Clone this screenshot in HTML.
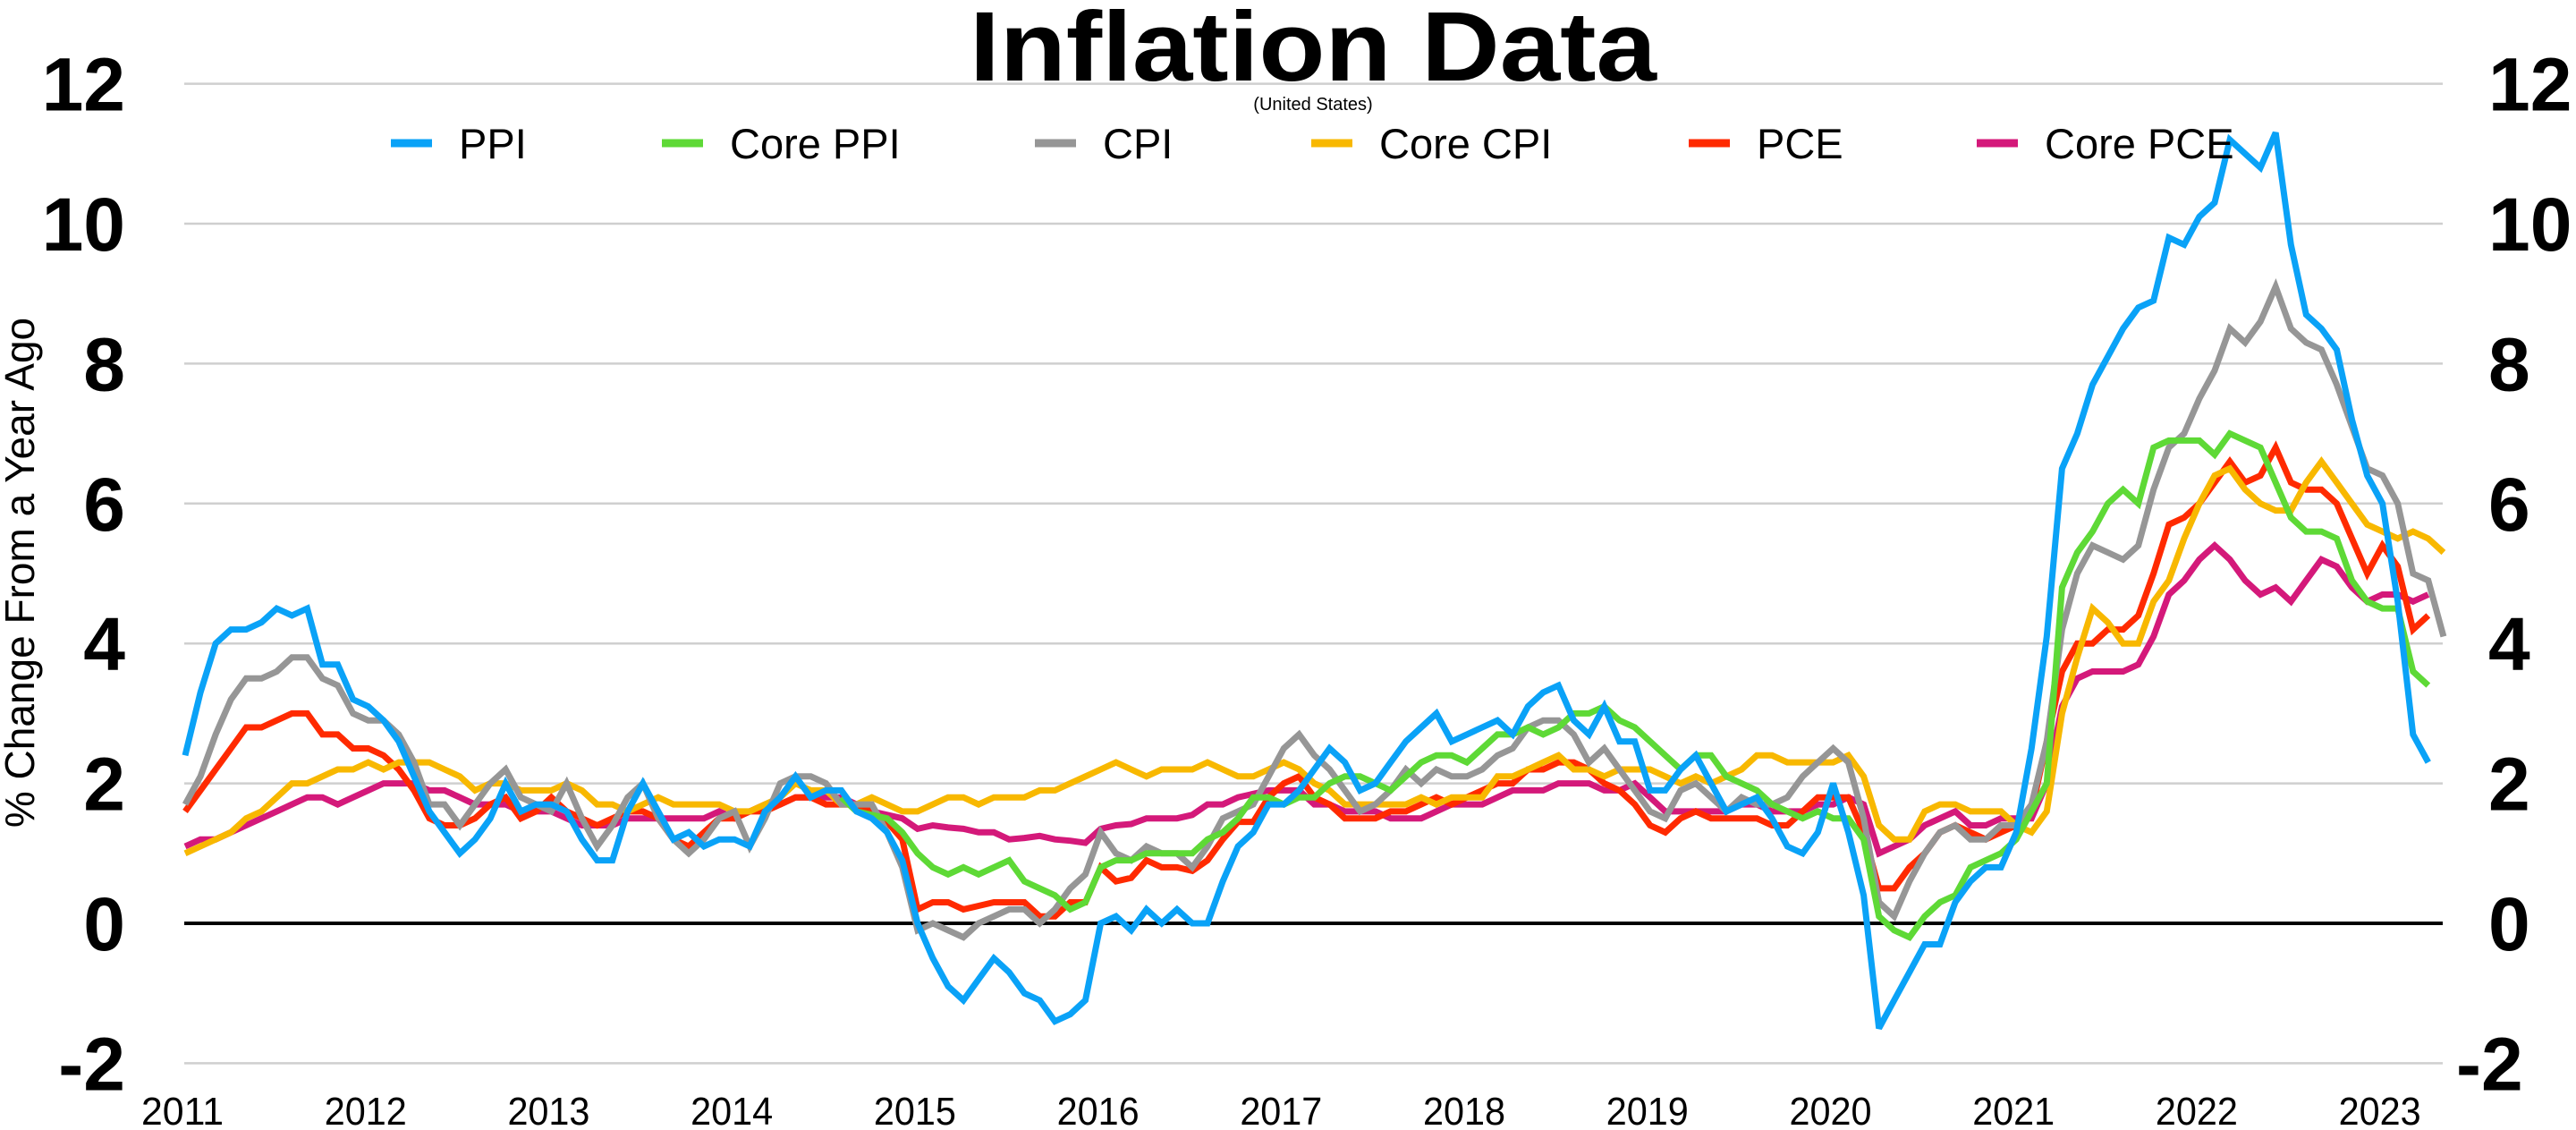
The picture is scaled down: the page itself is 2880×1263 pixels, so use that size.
<!DOCTYPE html>
<html><head><meta charset="utf-8"><style>
html,body{margin:0;padding:0;background:#fff;}
svg{display:block;font-family:"Liberation Sans",Arial,sans-serif;}
</style></head>
<body>
<svg id="chart" width="2880" height="1263" viewBox="0 0 2880 1263" xmlns="http://www.w3.org/2000/svg">
<text x="1468" y="90" font-size="110" font-weight="bold" text-anchor="middle" textLength="768" lengthAdjust="spacingAndGlyphs">Inflation Data</text>
<text x="1468" y="123" font-size="20" text-anchor="middle">(United States)</text>
<text transform="translate(38,640) rotate(-90)" font-size="46" text-anchor="middle">% Change From a Year Ago</text>
<g id="grid"></g><g id="series"></g><g id="legend"></g><g id="ticks"></g>
</svg>
<script>
const yTicks=[-2,0,2,4,6,8,10,12];
const yearLabels=["2011","2012","2013","2014","2015","2016","2017","2018","2019","2020","2021","2022","2023"];
const seriesNames=["PPI","Core PPI","CPI","Core CPI","PCE","Core PCE"];
const seriesColors=["#0aa2f7","#5ed936","#969696","#f8b800","#ff2a00","#d4197a"];
const seriesStart=[0,43,0,0,0,0];
const ppi=[2.4,3.3,4.0,4.2,4.2,4.3,4.5,4.4,4.5,3.7,3.7,3.2,
3.1,2.9,2.6,2.1,1.6,1.3,1.0,1.2,1.5,2.0,1.6,1.7,
1.7,1.6,1.2,0.9,0.9,1.6,2.0,1.6,1.2,1.3,1.1,1.2,
1.2,1.1,1.6,1.8,2.1,1.8,1.9,1.9,1.6,1.5,1.3,0.9,
0.0,-0.5,-0.9,-1.1,-0.8,-0.5,-0.7,-1.0,-1.1,-1.4,-1.3,-1.1,
0.0,0.1,-0.1,0.2,0.0,0.2,0.0,0.0,0.6,1.1,1.3,1.7,
1.7,1.9,2.2,2.5,2.3,1.9,2.0,2.3,2.6,2.8,3.0,2.6,
2.7,2.8,2.9,2.7,3.1,3.3,3.4,2.9,2.7,3.1,2.6,2.6,
1.9,1.9,2.2,2.4,2.0,1.6,1.7,1.8,1.5,1.1,1.0,1.3,
2.0,1.3,0.4,-1.5,-1.1,-0.7,-0.3,-0.3,0.3,0.6,0.8,0.8,
1.3,2.5,4.1,6.5,7.0,7.7,8.1,8.5,8.8,8.9,9.8,9.7,
10.1,10.3,11.2,11.0,10.8,11.3,9.7,8.7,8.5,8.2,7.2,6.4,
6.0,4.6,2.7,2.3];
const corePpi=[1.8,1.6,1.55,1.5,1.3,
1.0,0.8,0.7,0.8,0.7,0.8,0.9,0.6,0.5,0.4,0.2,0.3,
0.8,0.9,0.9,1.0,1.0,1.0,1.0,1.2,1.3,1.5,1.8,1.8,
1.7,1.8,1.8,2.0,2.1,2.1,2.0,1.9,2.1,2.3,2.4,2.4,
2.3,2.5,2.7,2.7,2.8,2.7,2.8,3.0,3.0,3.1,2.9,2.8,
2.6,2.4,2.2,2.4,2.4,2.1,2.0,1.9,1.7,1.6,1.5,1.6,
1.5,1.5,1.2,0.1,-0.1,-0.2,0.1,0.3,0.4,0.8,0.9,1.0,
1.2,1.6,2.0,4.8,5.3,5.6,6.0,6.2,6.0,6.8,6.9,6.9,
6.9,6.7,7.0,6.9,6.8,6.3,5.8,5.6,5.6,5.5,4.9,4.6,
4.5,4.5,3.6,3.4];
const cpi=[1.7,2.1,2.7,3.2,3.5,3.5,3.6,3.8,3.8,3.5,3.4,3.0,
2.9,2.9,2.7,2.3,1.7,1.7,1.4,1.7,2.0,2.2,1.8,1.7,
1.6,2.0,1.5,1.1,1.4,1.8,2.0,1.5,1.2,1.0,1.2,1.5,
1.6,1.1,1.5,2.0,2.1,2.1,2.0,1.7,1.7,1.7,1.3,0.8,
-0.1,0.0,-0.1,-0.2,0.0,0.1,0.2,0.2,0.0,0.2,0.5,0.7,
1.3,1.0,0.9,1.1,1.0,1.0,0.8,1.1,1.5,1.6,1.7,2.1,
2.5,2.7,2.4,2.2,1.9,1.6,1.7,1.9,2.2,2.0,2.2,2.1,
2.1,2.2,2.4,2.5,2.8,2.9,2.9,2.7,2.3,2.5,2.2,1.9,
1.6,1.5,1.9,2.0,1.8,1.6,1.8,1.7,1.7,1.8,2.1,2.3,
2.5,2.3,1.5,0.3,0.1,0.6,1.0,1.3,1.4,1.2,1.2,1.4,
1.4,1.7,2.6,4.2,5.0,5.4,5.3,5.2,5.4,6.2,6.8,7.0,
7.5,7.9,8.5,8.3,8.6,9.1,8.5,8.3,8.2,7.7,7.1,6.5,
6.4,6.0,5.0,4.9,4.1];
const coreCpi=[1.0,1.1,1.2,1.3,1.5,1.6,1.8,2.0,2.0,2.1,2.2,2.2,
2.3,2.2,2.3,2.3,2.3,2.2,2.1,1.9,2.0,2.0,1.9,1.9,
1.9,2.0,1.9,1.7,1.7,1.6,1.7,1.8,1.7,1.7,1.7,1.7,
1.6,1.6,1.7,1.8,2.0,1.9,1.9,1.7,1.7,1.8,1.7,1.6,
1.6,1.7,1.8,1.8,1.7,1.8,1.8,1.8,1.9,1.9,2.0,2.1,
2.2,2.3,2.2,2.1,2.2,2.2,2.2,2.3,2.2,2.1,2.1,2.2,
2.3,2.2,2.0,1.9,1.7,1.7,1.7,1.7,1.7,1.8,1.7,1.8,
1.8,1.8,2.1,2.1,2.2,2.3,2.4,2.2,2.2,2.1,2.2,2.2,
2.2,2.1,2.0,2.1,2.0,2.1,2.2,2.4,2.4,2.3,2.3,2.3,
2.3,2.4,2.1,1.4,1.2,1.2,1.6,1.7,1.7,1.6,1.6,1.6,
1.4,1.3,1.6,3.0,3.8,4.5,4.3,4.0,4.0,4.6,4.9,5.5,
6.0,6.4,6.5,6.2,6.0,5.9,5.9,6.3,6.6,6.3,6.0,5.7,
5.6,5.5,5.6,5.5,5.3];
const pce=[1.6,1.9,2.2,2.5,2.8,2.8,2.9,3.0,3.0,2.7,2.7,2.5,
2.5,2.4,2.2,1.9,1.5,1.4,1.4,1.5,1.7,1.8,1.5,1.6,
1.8,1.6,1.5,1.4,1.5,1.6,1.6,1.5,1.2,1.1,1.3,1.5,
1.5,1.6,1.6,1.7,1.8,1.8,1.7,1.7,1.7,1.6,1.45,1.2,
0.2,0.3,0.3,0.2,0.25,0.3,0.3,0.3,0.1,0.1,0.3,0.3,
0.8,0.6,0.65,0.9,0.8,0.8,0.75,0.9,1.2,1.45,1.45,1.8,
2.0,2.1,1.8,1.7,1.5,1.5,1.5,1.6,1.6,1.7,1.8,1.7,
1.8,1.9,2.0,2.0,2.2,2.2,2.3,2.3,2.2,2.0,1.9,1.7,
1.4,1.3,1.5,1.6,1.5,1.5,1.5,1.5,1.4,1.4,1.6,1.8,
1.8,1.8,1.3,0.5,0.5,0.8,1.0,1.3,1.4,1.3,1.2,1.3,
1.4,1.6,2.6,3.6,4.0,4.0,4.2,4.2,4.4,5.0,5.7,5.8,
6.0,6.3,6.6,6.3,6.4,6.8,6.3,6.2,6.2,6.0,5.5,5.0,
5.4,5.1,4.2,4.4];
const corePce=[1.1,1.2,1.2,1.3,1.4,1.5,1.6,1.7,1.8,1.8,1.7,1.8,
1.9,2.0,2.0,2.0,1.9,1.9,1.8,1.7,1.7,1.7,1.6,1.6,
1.6,1.5,1.4,1.4,1.4,1.5,1.5,1.5,1.5,1.5,1.5,1.6,
1.5,1.6,1.7,1.7,1.8,1.8,1.8,1.8,1.7,1.6,1.55,1.5,
1.35,1.4,1.37,1.35,1.3,1.3,1.2,1.22,1.25,1.2,1.18,1.15,
1.35,1.4,1.42,1.5,1.5,1.5,1.55,1.7,1.7,1.8,1.85,1.9,
1.9,1.9,1.7,1.7,1.6,1.6,1.6,1.5,1.5,1.5,1.6,1.7,
1.7,1.7,1.8,1.9,1.9,1.9,2.0,2.0,2.0,1.9,1.9,2.0,
1.8,1.6,1.6,1.6,1.6,1.6,1.7,1.7,1.6,1.6,1.6,1.7,
1.7,1.8,1.7,1.0,1.1,1.2,1.4,1.5,1.6,1.4,1.4,1.5,
1.5,1.5,2.0,3.1,3.5,3.6,3.6,3.6,3.7,4.1,4.7,4.9,
5.2,5.4,5.2,4.9,4.7,4.8,4.6,4.9,5.2,5.1,4.8,4.6,
4.7,4.7,4.6,4.7];
const seriesData=[ppi,corePpi,cpi,coreCpi,pce,corePce];

const NS="http://www.w3.org/2000/svg";
const plotL=206, plotR=2731;
const monthW=17.06, x0=207;
function xScale(m){return x0+m*monthW;}
function yScale(v){return 1032-78.2*v;}
function mk(tag,attrs,parent){const e=document.createElementNS(NS,tag);for(const k in attrs)e.setAttribute(k,attrs[k]);parent.appendChild(e);return e;}

const grid=document.getElementById('grid');
const ticks=document.getElementById('ticks');
yTicks.forEach(t=>{
  const ln=mk('line',{x1:plotL,x2:plotR,y1:yScale(t),y2:yScale(t),stroke:t===0?'#000':'#cfcfcf','stroke-width':t===0?4:2.5},grid);
  
  
  const lt=mk('text',{x:140,y:yScale(t)+30,'font-size':84,'font-weight':'bold','text-anchor':'end'},ticks);
  lt.textContent=String(t);
  
  
  const rt=mk('text',{x:t<0?2746:2782,y:yScale(t)+30,'font-size':84,'font-weight':'bold','text-anchor':'start'},ticks);
  rt.textContent=String(t);
  
  
});
yearLabels.forEach((lab,i)=>{
  const tx=mk('text',{x:xScale(i*12)-3,y:1257,'font-size':44,'text-anchor':'middle',textLength:92,lengthAdjust:'spacingAndGlyphs'},ticks);
  tx.textContent=lab;
  
  
});

const sg=document.getElementById('series');
const drawOrder=[5,4,3,2,1,0];
drawOrder.forEach(si=>{
  const d=seriesData[si].map((v,i)=>(i?'L':'M')+xScale(seriesStart[si]+i).toFixed(1)+' '+yScale(v).toFixed(1)).join(' ');
  const p=mk('path',{d:d,fill:'none',stroke:seriesColors[si],'stroke-width':7,'stroke-linejoin':'miter','stroke-miterlimit':3},sg);
  
  
});

const lg=document.getElementById('legend');
const swX=[437,740,1157,1466,1888,2210];
seriesNames.forEach((n,i)=>{
  const g=mk('g',{},lg);
  
  
  mk('line',{x1:swX[i],x2:swX[i]+46,y1:160,y2:160,stroke:seriesColors[i],'stroke-width':9},g);
  const t=mk('text',{x:swX[i]+76,y:177,'font-size':47},g);
  t.textContent=n;
});
</script>
</body></html>
